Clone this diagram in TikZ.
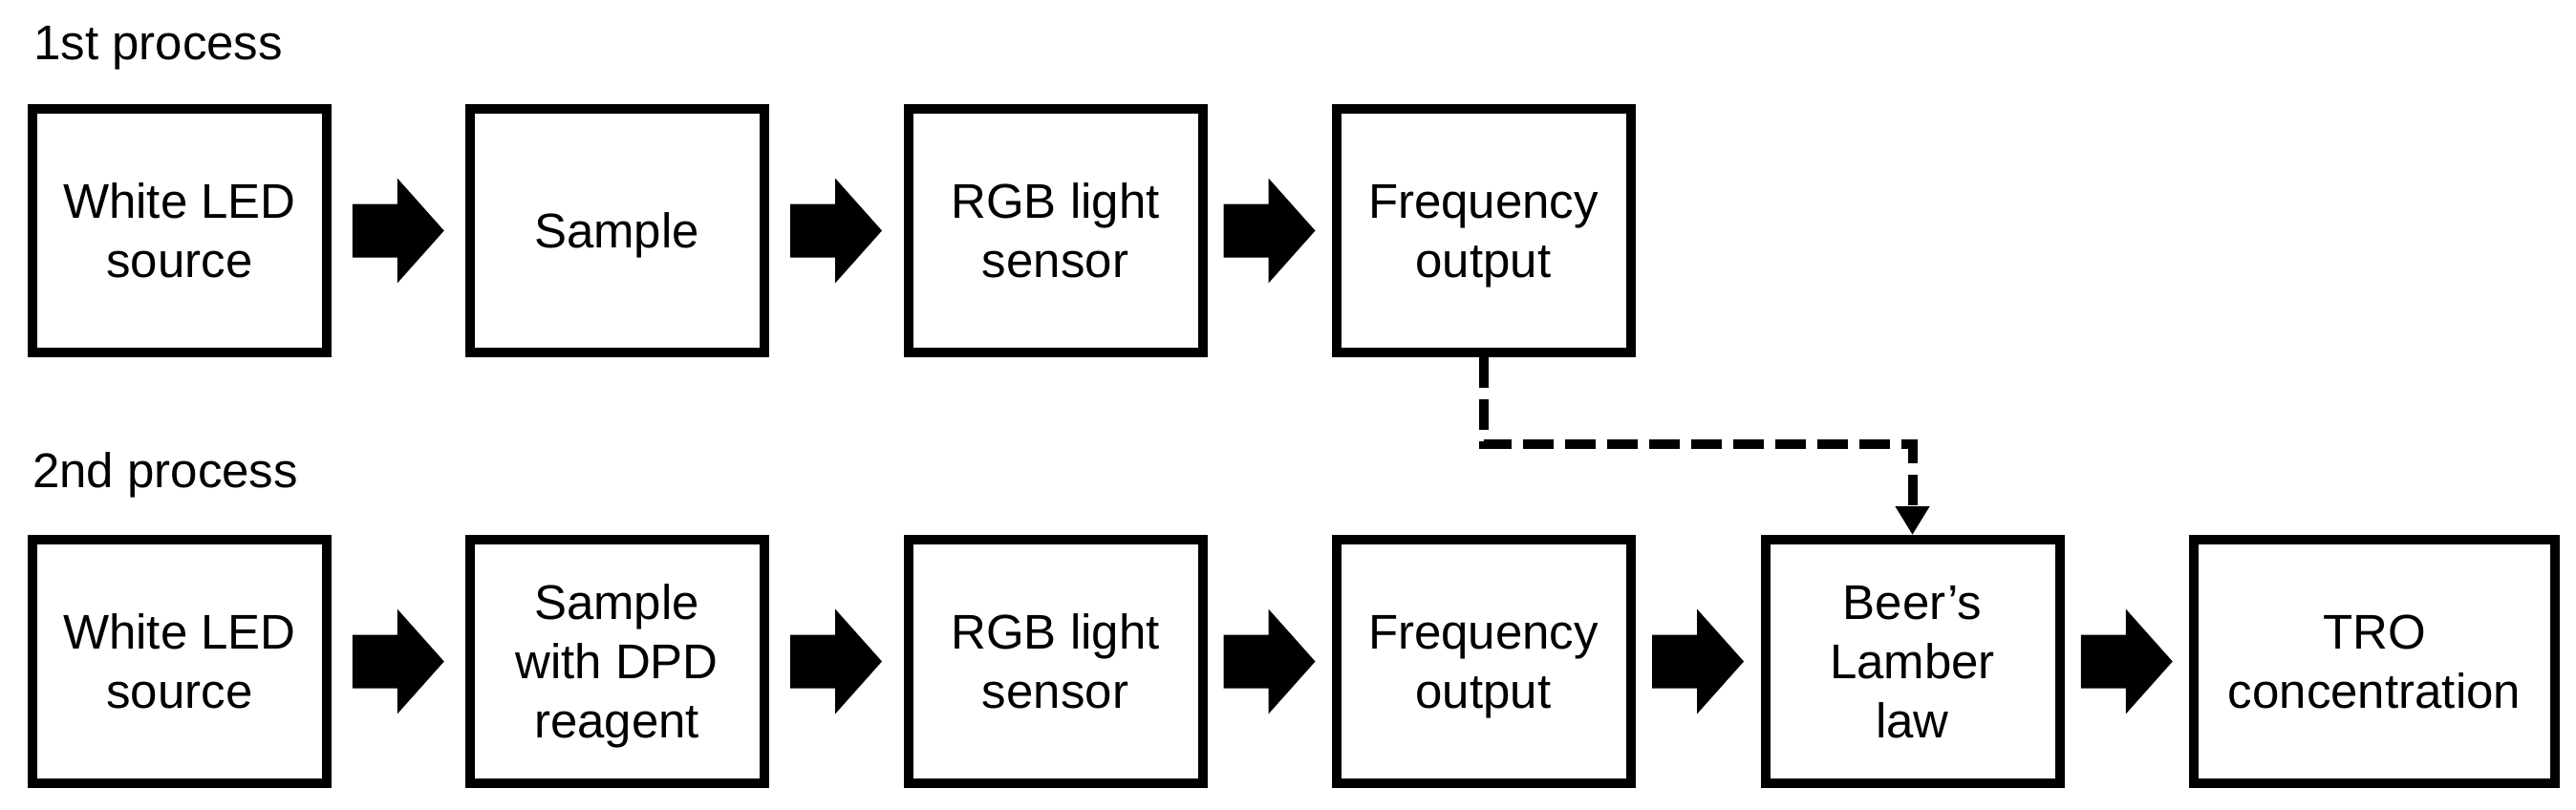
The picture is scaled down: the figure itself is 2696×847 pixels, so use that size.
\documentclass[tikz,border=0pt]{standalone}
\usepackage{fontspec}
\setmainfont{Liberation Sans}
\usetikzlibrary{calc,arrows.meta}
\tikzset{
  procbox/.style={draw=black, line width=10pt, minimum width=308pt, minimum height=255pt,
    inner sep=0pt, align=center, text depth=0pt, font=\fontsize{51}{62}\selectfont},
  widebox/.style={procbox, minimum width=378pt},
  heading/.style={anchor=base west, inner sep=0pt, font=\fontsize{51}{61}\selectfont},
  dashline/.style={line width=10pt, dash pattern=on 32pt off 12pt,
    -{Triangle[width=34pt,length=30pt]}}
}
\newcommand\blockarrow[2]{%
  \fill[black] ($(#1.east)!0.5!(#2.west)$) ++(-48,-28) -- ++(47,0) -- ++(0,-27)
    -- ++(49,55) -- ++(-49,55) -- ++(0,-27) -- ++(-47,0) -- cycle;}
\begin{document}
\begin{tikzpicture}[x=1pt,y=-1pt]
\useasboundingbox[fill=white] (0,0) rectangle (2696,847);
% headings
\node[heading] (h1) at (35,62) {1st process};
\node[heading] (h2) at (34,510) {2nd process};
% row 1
\node[procbox] (a1) at (188,241.5) {White LED\\source};
\node[procbox] (a2) at (645.5,241.5) {Sample};
\node[procbox] (a3) at (1104.5,241.5) {RGB light\\sensor};
\node[procbox] (a4) at (1552.5,241.5) {Frequency\\output};
% row 2
\node[procbox] (b1) at (188,692.5) {White LED\\source};
\node[procbox] (b2) at (645.5,692.5) {Sample\\with DPD\\reagent};
\node[procbox] (b3) at (1104.5,692.5) {RGB light\\sensor};
\node[procbox] (b4) at (1552.5,692.5) {Frequency\\output};
\node[procbox] (b5) at (2001.5,692.5) {Beer’s\\Lamber\\law};
\node[widebox] (b6) at (2485,692.5) {TRO\\concentration};
% block arrows
\blockarrow{a1}{a2}
\blockarrow{a2}{a3}
\blockarrow{a3}{a4}
\blockarrow{b1}{b2}
\blockarrow{b2}{b3}
\blockarrow{b3}{b4}
\blockarrow{b4}{b5}
\blockarrow{b5}{b6}
% dashed connector
\coordinate (bend) at (0,465);
\draw[dashline] (a4.south) -- (a4.south |- bend) -| (b5.north);
\end{tikzpicture}
\end{document}
